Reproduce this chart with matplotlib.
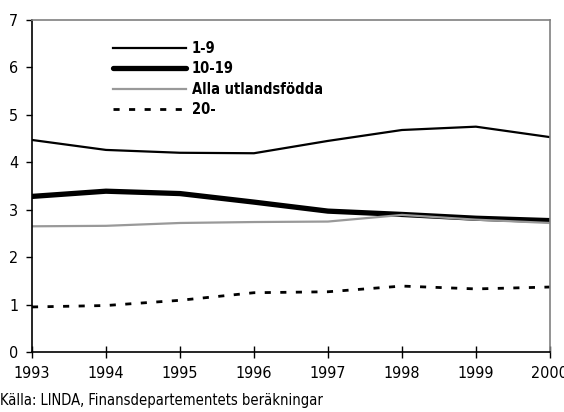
import matplotlib
matplotlib.use("Agg")
import matplotlib.pyplot as plt

plt.rcParams['font.family'] = ['DejaVu Sans']
plt.rcParams['font.stretch'] = 'condensed'

years = [1993, 1994, 1995, 1996, 1997, 1998, 1999, 2000]
s_1_9 = [4.47, 4.26, 4.20, 4.19, 4.45, 4.68, 4.75, 4.53]
s_10_19 = [3.28, 3.39, 3.34, 3.16, 2.97, 2.90, 2.82, 2.77]
s_alla = [2.65, 2.66, 2.72, 2.74, 2.75, 2.89, 2.79, 2.72]
s_20 = [0.95, 0.98, 1.09, 1.25, 1.27, 1.39, 1.33, 1.37]
labels = ['1-9', '10-19', 'Alla utlandsfödda', '20-']
source = 'Källa: LINDA, Finansdepartementets beräkningar'

fig = plt.figure(figsize=(5.64, 4.12), dpi=100)
ax = fig.add_axes([0.0567, 0.1456, 0.9183, 0.806])

ax.plot(years, s_1_9, color='black', lw=1.6, label=labels[0])
ax.plot(years, s_10_19, color='black', lw=3.8, label=labels[1], solid_capstyle='round')
ax.plot(years, s_alla, color='#999999', lw=1.6, label=labels[2])
ax.plot(years, s_20, color='black', lw=2.0, ls=(0, (2.2, 3.4)), label=labels[3])

ax.set_xlim(1993, 2000)
ax.set_ylim(0, 7)
ax.set_xticks(years)
ax.set_yticks(range(0, 8))
ax.tick_params(axis='x', direction='inout', length=8, width=1, labelsize=11.5, pad=6)
ax.tick_params(axis='y', direction='out', length=4, width=1, labelsize=11.5, pad=6)
for s in ['left', 'bottom']:
    ax.spines[s].set_color('black')
    ax.spines[s].set_linewidth(1.2)
for s in ['top', 'right']:
    ax.spines[s].set_color('#808080')
    ax.spines[s].set_linewidth(1.2)

leg = ax.legend(loc='upper left', bbox_to_anchor=(0.145, 0.955), frameon=False,
                handlelength=5.0, handletextpad=0.4, labelspacing=0.38,
                prop={'weight': 'bold', 'size': 10.5}, borderaxespad=0)

fig.text(0.0, 0.01, source, fontsize=10.5, ha='left', va='bottom')

fig.savefig('out.png', dpi=100)
